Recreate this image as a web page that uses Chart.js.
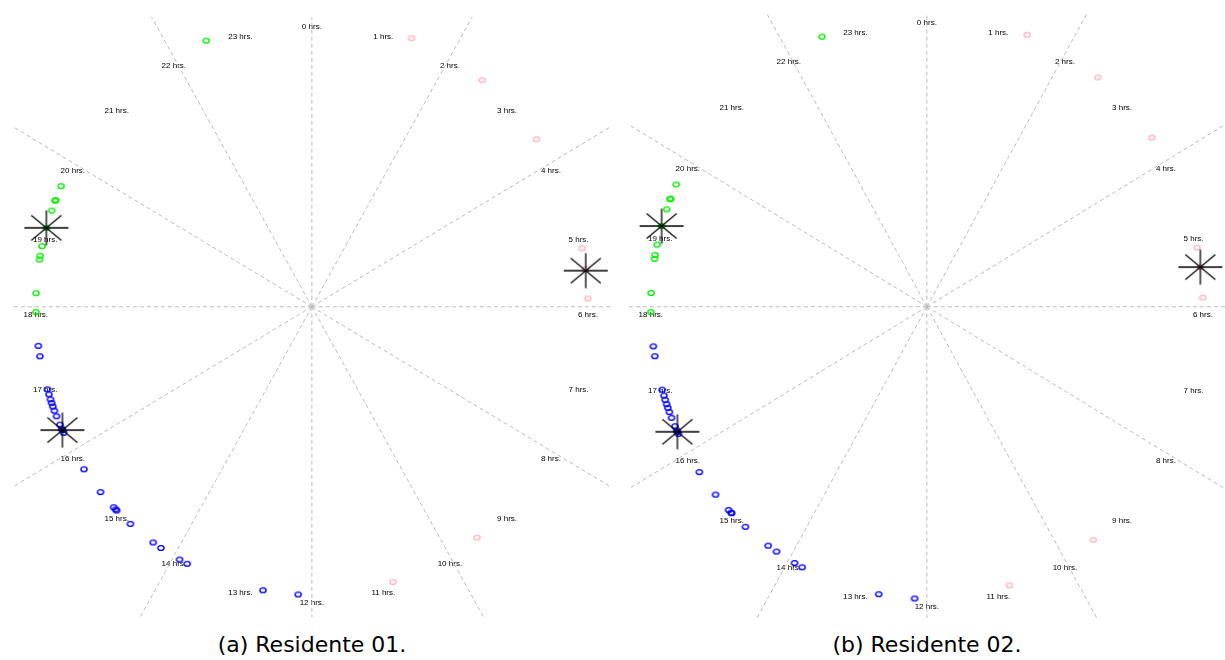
<!DOCTYPE html>
<html><head><meta charset="utf-8">
<script src="https://cdn.jsdelivr.net/npm/chart.js@4/dist/chart.umd.min.js"></script>
<style>
html,body{margin:0;padding:0;background:#fff;width:1225px;height:660px;overflow:hidden;}
canvas{position:absolute;}
.cap{position:absolute;font-family:"DejaVu Sans",sans-serif;font-size:22px;line-height:22px;color:#000;text-align:center;white-space:pre;}
</style></head><body>
<canvas id="c1" width="612" height="625" style="left:0;top:0"></canvas>
<canvas id="c2" width="610" height="625" style="left:615px;top:0"></canvas>
<div class="cap" style="left:112px;width:400px;top:634px">(a) Residente 01.</div>
<div class="cap" style="left:727px;width:400px;top:634px">(b) Residente 02.</div>
<script>
// ---- data (hour of day of each event) ----
const hourLabels = ["0 hrs.","1 hrs.","2 hrs.","3 hrs.","4 hrs.","5 hrs.","6 hrs.","7 hrs.","8 hrs.","9 hrs.","10 hrs.","11 hrs.","12 hrs.","13 hrs.","14 hrs.","15 hrs.","16 hrs.","17 hrs.","18 hrs.","19 hrs.","20 hrs.","21 hrs.","22 hrs.","23 hrs."];
const gridHours = [0,2,4,6,8,10,12,14,16,18,20,22];

const r1Green = [22.50,19.65,19.45,19.44,19.30,19.06,18.81,18.68,18.63,18.18,17.93];
const r1Pink  = [1.41,2.54,3.63,5.22,5.50,5.89,9.55,10.86];
const r1Blue  = [17.48,17.34,16.89,16.82,16.75,16.70,16.65,16.59,16.51,16.39,16.33,16.27,16.31,15.71,15.33,15.06,15.02,15.00,14.74,14.34,14.21,13.91,13.79,12.68,12.19];
const r1Means = [19.06,5.52,16.31];

const r2Green = [22.51,19.65,19.45,19.44,19.30,19.07,18.82,18.68,18.63,18.18,17.93];
const r2Pink  = [1.42,2.55,3.64,5.22,5.48,5.88,9.53,10.84];
const r2Blue  = [17.48,17.35,16.90,16.82,16.76,16.70,16.65,16.59,16.51,16.39,16.33,16.28,16.31,15.70,15.33,15.06,15.01,15.00,14.74,14.34,14.20,13.91,13.79,12.67,12.17];
const r2Means = [19.07,5.48,16.31];

// ---- helpers ----
function toXY(h, r){ r = (r===undefined)?1:r; const a=h*Math.PI/12; return {x:Math.sin(a)*r, y:Math.cos(a)*r}; }

function ringImg(color){
  const c=document.createElement('canvas'); c.width=10; c.height=8;
  const g=c.getContext('2d'); g.strokeStyle=color; g.lineWidth=1.4;
  g.beginPath(); g.ellipse(5,4,3.1,2.4,0,0,Math.PI*2); g.stroke(); return c;
}
function starImg(){
  const c=document.createElement('canvas'); c.width=48; c.height=38;
  const g=c.getContext('2d'); const cx=24, cy=19;
  g.lineCap='butt';
  g.strokeStyle='#000'; g.lineWidth=1.3;
  g.beginPath(); g.moveTo(cx-22,cy); g.lineTo(cx+22,cy); g.moveTo(cx,cy-17.5); g.lineTo(cx,cy+17.5); g.stroke();
  g.lineWidth=1.2;
  g.beginPath(); g.moveTo(cx-15,cy-12.5); g.lineTo(cx+15,cy+12.5); g.moveTo(cx-15,cy+12.5); g.lineTo(cx+15,cy-12.5); g.stroke();
  return c;
}
const greenRing=ringImg('#00ee00'), pinkRing=ringImg('#ffb3c0'), blueRing=ringImg('#0000ff'), star=starImg();

const hourLabelPlugin = {
  id:'hourLabels',
  beforeDatasetsDraw(chart){
    const ctx=chart.ctx, xs=chart.scales.x, ys=chart.scales.y;
    ctx.save();
    ctx.font='8px "Liberation Sans", Arial, sans-serif';
    ctx.fillStyle='#000'; ctx.textAlign='center'; ctx.textBaseline='middle';
    hourLabels.forEach((t,i)=>{ const p=toXY(i); ctx.fillText(t, xs.getPixelForValue(p.x), ys.getPixelForValue(p.y)+8); });
    ctx.restore();
  }
};

function build(id, green, pink, blue, means, pad, yMin, yMax){
  const ds=[];
  ds.push({data:means.map(h=>toXY(h)), pointStyle:star, pointRadius:20, order:0, clip:false});
  ds.push({data:green.map(h=>toXY(h)), pointStyle:greenRing, pointRadius:5, order:1, clip:false});
  ds.push({data:pink.map(h=>toXY(h)), pointStyle:pinkRing, pointRadius:5, order:1, clip:false});
  ds.push({data:blue.map(h=>toXY(h)), pointStyle:blueRing, pointRadius:5, order:1, clip:false});
  gridHours.forEach(h=>{
    ds.push({data:[{x:0,y:0}, toXY(h,2.5)], showLine:true, pointRadius:0, borderColor:'#bcbcbc', borderWidth:1, borderDash:[4,3], order:5, clip:0});
  });
  new Chart(document.getElementById(id), {
    type:'scatter',
    data:{datasets:ds},
    options:{
      responsive:false, animation:false, devicePixelRatio:1,
      layout:{padding:pad, autoPadding:false},
      plugins:{legend:{display:false}, tooltip:{enabled:false}},
      scales:{
        x:{type:'linear', display:false, min:-1.079, max:1.080},
        y:{type:'linear', display:false, min:yMin, max:yMax}
      }
    },
    plugins:[hourLabelPlugin]
  });
}
build('c1', r1Green, r1Pink, r1Blue, r1Means, {left:14,right:2,top:17,bottom:8}, -1.077, 1.006);
build('c2', r2Green, r2Pink, r2Blue, r2Means, {left:14,right:0,top:13,bottom:7}, -1.066, 1.006);
</script>
</body></html>
